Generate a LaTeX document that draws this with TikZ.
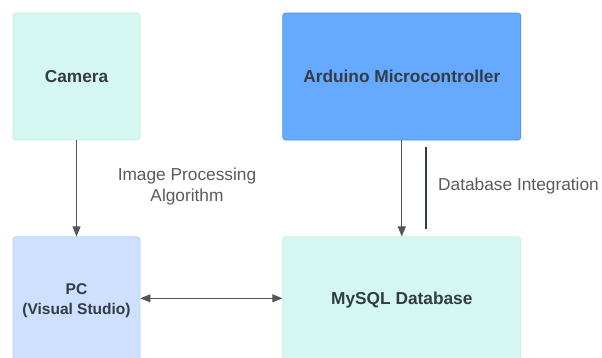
\documentclass[tikz,border=0pt]{standalone}
\usepackage{fontspec}
\setmainfont{Liberation Sans}
\usetikzlibrary{positioning, arrows.meta, calc}
\definecolor{mintfill}{HTML}{D5F7F1}
\definecolor{mintline}{HTML}{C2EEE5}
\definecolor{bluefill}{HTML}{66AAFF}
\definecolor{blueline}{HTML}{4C93EA}
\definecolor{pcfill}{HTML}{CDE0FD}
\definecolor{pcline}{HTML}{BCD3F4}
\definecolor{txtdark}{HTML}{333B45}
\definecolor{txtgray}{HTML}{5A5A5A}
\definecolor{arrgray}{HTML}{555555}

\begin{document}
\begin{tikzpicture}[
  x=1pt, y=-1pt, >={Triangle[length=10pt, width=8pt]},
  box/.style={rounded corners=3pt, line width=0.8pt, align=center, inner sep=2pt,
    minimum height=127pt, font=\bfseries\fontsize{17.3}{21}\selectfont, text=txtdark},
  lbl/.style={align=center, inner sep=0pt, font=\fontsize{17.3}{21}\selectfont, text=txtgray},
  arr/.style={line width=0.8pt, arrgray}
]
\clip (0,0) rectangle (602,357);
\useasboundingbox (0,0) rectangle (602,357);
\node[box, draw=mintline, fill=mintfill, minimum width=127pt] (cam) at (76.5,76.5) {Camera};
\node[box, draw=blueline, fill=bluefill, minimum width=238pt, right=142pt of cam] (ard) {Arduino Microcontroller};
\node[box, draw=pcline, fill=pcfill, minimum width=127pt, below=96pt of cam,
  font=\bfseries\fontsize{15.5}{20}\selectfont] (pc) {PC\\(Visual Studio)};
\node[box, draw=mintline, fill=mintfill, minimum width=238pt, right=142pt of pc] (db) {MySQL Database};
% labels
\node[lbl] (iplbl) at (187,187) {Image Processing\\Algorithm};
\node[lbl, anchor=west] (dblbl) at (438,186) {Database Integration};
% connectors
\coordinate (dbtop) at ($(ard.south)+(24,7)$);
\coordinate (dbbot) at ($(db.north)+(24,-7)$);
\draw[arr, ->] (cam) -- (pc);
\draw[arr, ->] (ard) -- (ard |- db.north);
\draw[line width=2pt, txtdark] (dbtop) -- (dbbot);
\draw[arr, <->] ([yshift=2pt]pc.east) -- ([yshift=2pt]pc.east -| db.west);
\end{tikzpicture}
\end{document}
